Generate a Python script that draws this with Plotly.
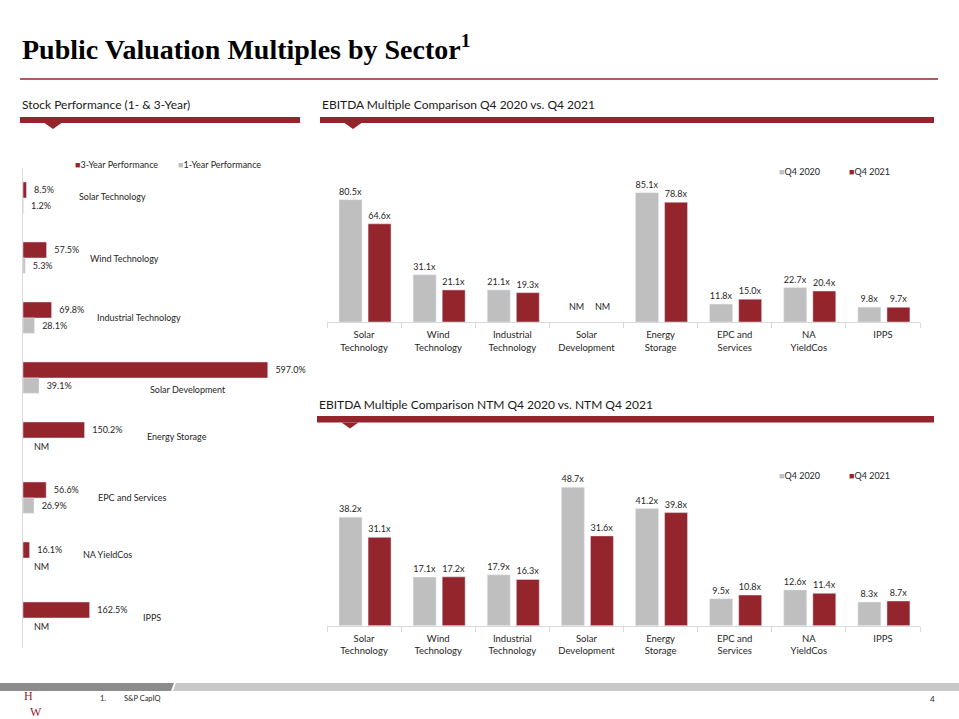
import plotly.graph_objects as go

W, H = 959, 719
RED = "#95252D"
GRAY = "#BFBFBF"
TXT = "#262626"
FONT = "Lato"

# ---------------- data ----------------
perf_sectors = ["Solar Technology", "Wind Technology", "Industrial Technology",
                "Solar Development", "Energy Storage", "EPC and Services",
                "NA YieldCos", "IPPS"]
perf_3yr = [8.5, 57.5, 69.8, 597.0, 150.2, 56.6, 16.1, 162.5]
perf_1yr = [1.2, 5.3, 28.1, 39.1, None, 26.9, None, None]

mult_cats = ["Solar<br>Technology", "Wind<br>Technology", "Industrial<br>Technology",
             "Solar<br>Development", "Energy<br>Storage", "EPC and<br>Services",
             "NA<br>YieldCos", "IPPS"]
ltm_q4_2020 = [80.5, 31.1, 21.1, None, 85.1, 11.8, 22.7, 9.8]
ltm_q4_2021 = [64.6, 21.1, 19.3, None, 78.8, 15.0, 20.4, 9.7]
ntm_q4_2020 = [38.2, 17.1, 17.9, 48.7, 41.2, 9.5, 12.6, 8.3]
ntm_q4_2021 = [31.1, 17.2, 16.3, 31.6, 39.8, 10.8, 11.4, 8.7]

# label placement (style) for left chart sector names: left edge px, vertical shift px
sector_label_px = [77, 88, 95, 148, 145, 96, 81, 141]
sector_label_dy = [2, 0, 1, -11, 2, 1, 4, 1]


def px(x):
    return x / W


def py(y):
    return 1 - y / H


NB = "\u00a0\u00a0"


def present(cats, vals):
    """Keep only categories that have a value (NM ones are labelled separately)."""
    pairs = [(c, v) for c, v in zip(cats, vals) if v is not None]
    return [c for c, _ in pairs], [v for _, v in pairs]


fig = go.Figure()

# ---------------- left: stock performance ----------------
c3, v3 = present(perf_sectors, perf_3yr)
fig.add_trace(go.Bar(
    y=c3, x=v3, orientation="h", name="3-Year Performance",
    xaxis="x", yaxis="y", width=0.267, offset=-0.267, marker_color=RED,
    text=[f"{NB}{v:.1f}%" for v in v3], textposition="outside",
    textfont=dict(size=9, color=TXT, family=FONT), cliponaxis=False))
c1, v1 = present(perf_sectors, perf_1yr)
fig.add_trace(go.Bar(
    y=c1, x=v1, orientation="h", name="1-Year Performance",
    xaxis="x", yaxis="y", width=0.255, offset=0.0, marker_color=GRAY,
    text=[f"{NB}{v:.1f}%" for v in v1], textposition="outside",
    textfont=dict(size=9, color=TXT, family=FONT), cliponaxis=False))

# ---------------- right charts: EBITDA multiples ----------------
for vals, name, col, off, xa, ya in [
    (ltm_q4_2020, "Q4 2020", GRAY, -0.338, "x2", "y2"),
    (ltm_q4_2021, "Q4 2021", RED, 0.054, "x2", "y2"),
    (ntm_q4_2020, "Q4 2020", GRAY, -0.338, "x3", "y3"),
    (ntm_q4_2021, "Q4 2021", RED, 0.054, "x3", "y3"),
]:
    cx, vx = present(mult_cats, vals)
    fig.add_trace(go.Bar(
        x=cx, y=vx, name=name, xaxis=xa, yaxis=ya,
        width=0.31, offset=off, marker_color=col,
        text=[f"{v:.1f}x" for v in vx], textposition="outside",
        textfont=dict(size=9, color=TXT, family=FONT), cliponaxis=False))

annotations = []
shapes = []

# title
annotations.append(dict(
    text="<b>Public Valuation Multiples by Sector<sup>1</sup></b>",
    x=px(20), y=py(47), xref="paper", yref="paper", xanchor="left", yanchor="middle",
    showarrow=False, font=dict(family="Liberation Serif", size=28, color="#000000")))
shapes.append(dict(type="line", xref="paper", yref="paper",
                   x0=px(20), x1=px(938), y0=py(79), y1=py(79),
                   line=dict(color=RED, width=1.6)))

# section headers with bands and notches
headers = [
    ("Stock Performance (1- & 3-Year)", 20, 105, 20, 300, 117, 123, 53),
    ("EBITDA Multiple Comparison Q4 2020 vs. Q4 2021", 320, 105, 320, 934, 117, 123, 353),
    ("EBITDA Multiple Comparison NTM Q4 2020 vs. NTM Q4 2021", 317, 404, 317, 934, 416, 422.5, 350),
]
for text, tx, ty, bx0, bx1, by0, by1, nx in headers:
    annotations.append(dict(text=text, x=px(tx), y=py(ty), xref="paper", yref="paper",
                            xanchor="left", yanchor="middle", showarrow=False,
                            font=dict(family=FONT, size=12, color="#1A1A1A")))
    shapes.append(dict(type="rect", xref="paper", yref="paper",
                       x0=px(bx0), x1=px(bx1), y0=py(by0), y1=py(by1),
                       fillcolor=RED, line=dict(width=0)))
    shapes.append(dict(type="path", xref="paper", yref="paper",
                       path=f"M{px(nx-8.5)},{py(by1)} L{px(nx+8.5)},{py(by1)} L{px(nx)},{py(by1+6)} Z",
                       fillcolor=RED, line=dict(width=0)))

# legends drawn as text keys
legend_items = [
    ("3-Year Performance", RED, 73, 165),
    ("1-Year Performance", GRAY, 176, 165),
    ("Q4 2020", GRAY, 777, 171),
    ("Q4 2021", RED, 847, 171),
    ("Q4 2020", GRAY, 777, 476),
    ("Q4 2021", RED, 847, 476),
]
for name, col, lx, ly in legend_items:
    annotations.append(dict(text=f"<span style='color:{col}'>■</span>{name}",
                            x=px(lx), y=py(ly), xref="paper", yref="paper",
                            xanchor="left", yanchor="middle", showarrow=False,
                            font=dict(family=FONT, size=9, color=TXT)))

# left chart sector labels
for name, lx, dy in zip(perf_sectors, sector_label_px, sector_label_dy):
    annotations.append(dict(text=name, x=px(lx), y=name, xref="paper", yref="y",
                            xanchor="left", yanchor="middle", yshift=dy, showarrow=False,
                            font=dict(family=FONT, size=9, color=TXT)))
# NM labels for missing 1-year values
for name, v in zip(perf_sectors, perf_1yr):
    if v is None:
        annotations.append(dict(text="NM", x=0, y=name, xref="x", yref="y",
                                xanchor="left", yanchor="middle", xshift=9, yshift=-8,
                                showarrow=False, font=dict(family=FONT, size=9, color=TXT)))

# NM labels in top-right chart
for i, (a, b) in enumerate(zip(ltm_q4_2020, ltm_q4_2021)):
    if a is None:
        annotations.append(dict(text="NM", x=i, y=0, xref="x2", yref="y2", xshift=-10,
                                yshift=16, showarrow=False,
                                font=dict(family=FONT, size=9, color=TXT)))
    if b is None:
        annotations.append(dict(text="NM", x=i, y=0, xref="x2", yref="y2", xshift=16,
                                yshift=16, showarrow=False,
                                font=dict(family=FONT, size=9, color=TXT)))

# footer
shapes.append(dict(type="path", xref="paper", yref="paper",
                   path=f"M{px(0)},{py(683)} L{px(174)},{py(683)} L{px(171)},{py(691)} L{px(0)},{py(691)} Z",
                   fillcolor="#8C8C8C", line=dict(width=0)))
shapes.append(dict(type="path", xref="paper", yref="paper",
                   path=f"M{px(176)},{py(683)} L{px(959)},{py(683)} L{px(959)},{py(691)} L{px(173)},{py(691)} Z",
                   fillcolor="#C8C8C8", line=dict(width=0)))
annotations.append(dict(text="H<br>\u00a0\u00a0W", x=px(22), y=py(704), xref="paper", yref="paper",
                        xanchor="left", yanchor="middle", align="left", showarrow=False,
                        font=dict(family="Liberation Serif", size=12, color=RED)))
annotations.append(dict(text="1.", x=px(98), y=py(705), xref="paper", yref="paper",
                        xanchor="left", showarrow=False,
                        font=dict(family=FONT, size=7.5, color=TXT)))
annotations.append(dict(text="S&P CapIQ", x=px(122), y=py(705), xref="paper", yref="paper",
                        xanchor="left", showarrow=False,
                        font=dict(family=FONT, size=7.5, color=TXT)))
annotations.append(dict(text="4", x=px(932), y=py(706), xref="paper", yref="paper",
                        xanchor="center", showarrow=False,
                        font=dict(family=FONT, size=8, color=TXT)))

cat_axis = dict(type="category", categoryorder="array", categoryarray=mult_cats,
                showline=True, linecolor="#D9D9D9", linewidth=1,
                ticks="outside", tickson="boundaries", ticklen=5, tickcolor="#D9D9D9",
                ticklabelstandoff=4,
                tickfont=dict(family=FONT, size=9.5, color=TXT), showgrid=False,
                zeroline=False, fixedrange=True)

fig.update_layout(
    width=W, height=H,
    margin=dict(l=0, r=0, t=0, b=0),
    paper_bgcolor="white", plot_bgcolor="white",
    barmode="overlay",
    showlegend=False,
    font=dict(family=FONT, color=TXT),
    xaxis=dict(domain=[px(23), px(310)], range=[0, 700], visible=False, anchor="y",
               fixedrange=True),
    yaxis=dict(domain=[py(648), py(168)], type="category", categoryorder="array",
               categoryarray=perf_sectors, autorange="reversed", showline=True,
               linecolor="#D9D9D9", showticklabels=False, ticks="", anchor="x",
               showgrid=False, zeroline=False, fixedrange=True),
    xaxis2=dict(domain=[px(327), px(920)], anchor="y2", **cat_axis),
    yaxis2=dict(domain=[py(322), py(170)], range=[0, 100], visible=False, anchor="x2",
                fixedrange=True),
    xaxis3=dict(domain=[px(327), px(920)], anchor="y3", **cat_axis),
    yaxis3=dict(domain=[py(625.7), py(469.4)], range=[0, 55], visible=False, anchor="x3",
                fixedrange=True),
    annotations=annotations,
    shapes=shapes,
)

fig.write_html(
    "out.html",
    config={"displayModeBar": False},
    post_script="document.body.style.margin='0';document.body.style.overflow='hidden';",
)
